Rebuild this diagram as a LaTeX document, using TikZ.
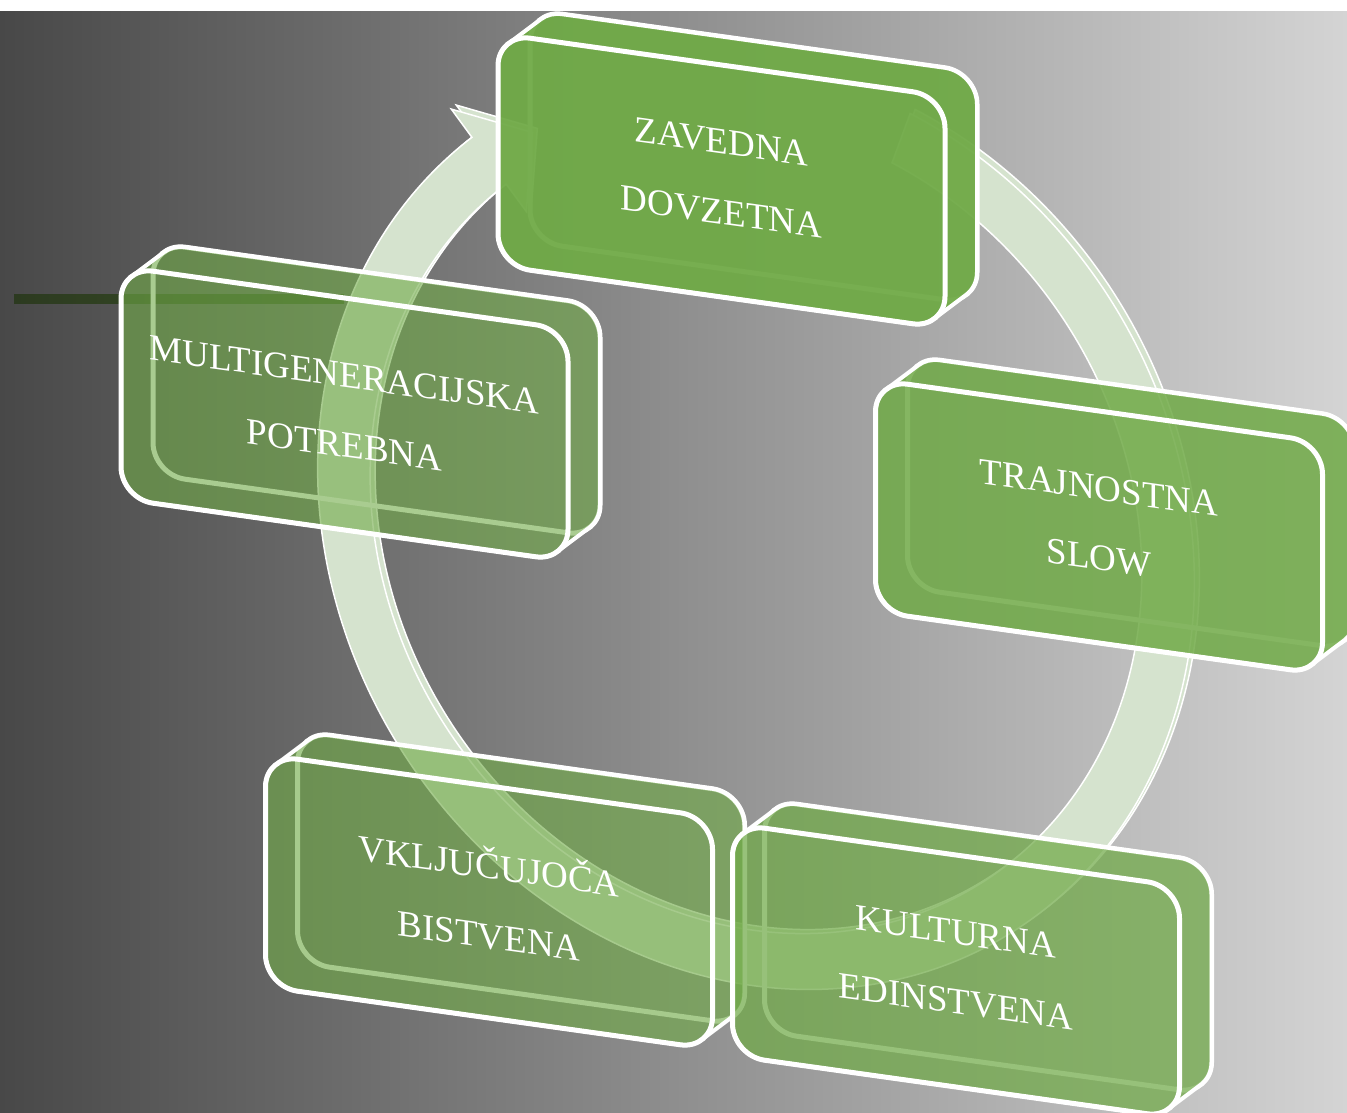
\documentclass[tikz,border=0pt]{standalone}
\usepackage{fontspec}
\setmainfont{Liberation Serif}
\usepackage{tikz}

\definecolor{boxgreen}{HTML}{70AA47}
\definecolor{ringgreen}{HTML}{D5E3CE}
\definecolor{bgdark}{HTML}{484848}
\definecolor{bglight}{HTML}{D4D4D4}
\definecolor{linedark}{HTML}{2C3A20}
\definecolor{linegreen}{HTML}{3A5226}

% front face and outline of the whole block, in box coordinates
\def\boxface{(-223.5,84) -- (-223.5,-84) arc[start angle=180,end angle=270,radius=32]
  -- (191.5,-116) arc[start angle=270,end angle=360,radius=32]
  -- (223.5,84) arc[start angle=0,end angle=90,radius=32]
  -- (-191.5,116) arc[start angle=90,end angle=180,radius=32] -- cycle}
\def\boxhull{(-223.5,84) -- (-223.5,-84) arc[start angle=180,end angle=228.3,radius=32]
  -- ++(32,-28.5) arc[start angle=228.3,end angle=270,radius=32]
  -- (223.5,-144.5) arc[start angle=270,end angle=360,radius=32]
  -- (255.5,55.5) arc[start angle=0,end angle=48.3,radius=32]
  -- ++(-32,28.5) arc[start angle=48.3,end angle=90,radius=32]
  -- (-191.5,116) arc[start angle=90,end angle=180,radius=32] -- cycle}

\newcommand{\cyclebox}[4]{%
\begin{scope}[shift={(#2)},yslant=-0.14]
\draw[white,line width=5pt,shift={(32,-28.5)}] \boxface;
\filldraw[fill=boxgreen,fill opacity=#3,draw=white,line width=4pt] \boxhull;
\draw[white,line width=5pt] \boxface;
\node[boxtext] (#1) at (0,-4) {#4};
\end{scope}}

\begin{document}
\begin{tikzpicture}[x=1pt,y=-1pt,
boxtext/.style={text=white,align=center,font=\fontsize{37}{70}\selectfont,transform shape},
ringline/.style={draw=white,line width=1.5pt,fill=ringgreen}]
\clip (0,0) rectangle (1347,1113);
\fill[white] (0,0) rectangle (1347,1113);
\shade[left color=bgdark,right color=bglight] (0,12) rectangle (1347,1113);
\shade[left color=linedark,right color=linegreen] (14,294) rectangle (344,303);

% circular arrow
\foreach \dx/\dy in {5/-4,0/0}
\draw[ringline,shift={(756+\dx,525+\dy)},rotate=-57.7]
  (-123.5:481 and 420) arc[start angle=-123.5,end angle=175.5,x radius=481,y radius=420]
  -- (175.5:516 and 450) -- (183:452 and 395) -- (175.5:389 and 339)
  -- (175.5:423 and 370) arc[start angle=175.5,end angle=-123.5,x radius=423,y radius=370]
  -- cycle;

\cyclebox{zavedna}{721.5,181}{0.95}{ZAVEDNA\\DOVZETNA}
\cyclebox{trajnostna}{1099,527}{0.85}{TRAJNOSTNA\\SLOW}
\cyclebox{multi}{344.5,414}{0.6}{MULTIGENERACIJSKA\\POTREBNA}
\cyclebox{vkljucujoca}{489,902}{0.62}{VKLJUČUJOČA\\BISTVENA}
\cyclebox{kulturna}{956,971}{0.72}{KULTURNA\\EDINSTVENA}
\end{tikzpicture}
\end{document}
